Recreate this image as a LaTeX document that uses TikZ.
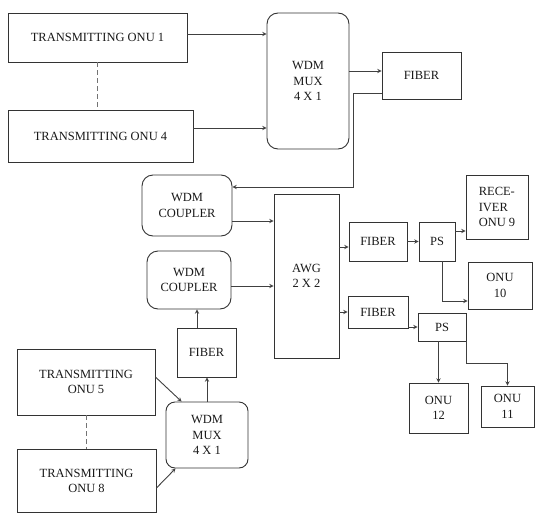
\documentclass[tikz,border=0pt]{standalone}
\usepackage{fontspec}
\setmainfont{Liberation Serif}
\begin{document}
\begin{tikzpicture}[
    x=1pt, y=-1pt,
    bloc/.style={draw=black!80, line width=0.9pt, inner sep=1pt, align=center,
                 font=\fontsize{12.5}{15.5}\selectfont, text=black!90},
    arrondi/.style={bloc, rounded corners=11pt},
    fleche/.style={->, >=stealth, draw=black!75, line width=0.9pt},
    pointille/.style={draw=black!55, line width=0.9pt, dash pattern=on 5pt off 3pt}
]
    \useasboundingbox (0,0) rectangle (535,514);

    \node[bloc, minimum width=179pt, minimum height=49pt] (tx1) at (97.5,37.5) {TRANSMITTING ONU 1};
    \node[bloc, minimum width=185pt, minimum height=52pt] (tx4) at (100.5,136) {TRANSMITTING ONU 4};
    \node[arrondi, minimum width=82pt, minimum height=136pt] (mux1) at (308,81) {WDM\\MUX\\4 X 1};
    \node[bloc, minimum width=79pt, minimum height=47pt] (fib1) at (421.5,75.5) {FIBER};

    \node[arrondi, minimum width=90pt, minimum height=61pt] (cpl1) at (187,205.5) {WDM\\COUPLER};
    \node[arrondi, minimum width=84pt, minimum height=58pt] (cpl2) at (189,280) {WDM\\COUPLER};
    \node[bloc, minimum width=65pt, minimum height=164pt] (awg) at (306.5,276) {AWG\\2 X 2};

    \node[bloc, minimum width=58pt, minimum height=39pt] (fib2) at (378,241.5) {FIBER};
    \node[bloc, minimum width=36pt, minimum height=39pt] (ps1) at (437,241.5) {PS};
    \node[bloc, minimum width=62pt, minimum height=64pt, align=left] (rx9) at (497,207) {RECE-\\IVER\\ONU 9};
    \node[bloc, minimum width=64pt, minimum height=47pt] (onu10) at (500,285.5) {ONU\\10};

    \node[bloc, minimum width=60pt, minimum height=32pt] (fib3) at (378,312) {FIBER};
    \node[bloc, minimum width=48pt, minimum height=28pt] (ps2) at (442,327) {PS};
    \node[bloc, minimum width=59pt, minimum height=50pt] (onu12) at (438.5,408) {ONU\\12};
    \node[bloc, minimum width=53pt, minimum height=41pt] (onu11) at (507.5,406.5) {ONU\\11};

    \node[bloc, minimum width=59pt, minimum height=49pt] (fib4) at (206.5,352.5) {FIBER};
    \node[arrondi, minimum width=82pt, minimum height=66pt, rounded corners=9pt] (mux2) at (207,435) {WDM\\MUX\\4 X 1};
    \node[bloc, minimum width=138pt, minimum height=66pt] (tx5) at (86,382) {TRANSMITTING\\ONU 5};
    \node[bloc, minimum width=139pt, minimum height=63pt] (tx8) at (86.5,481) {TRANSMITTING\\ONU 8};

    \draw[pointille] (tx1.south) -- (tx1.south |- tx4.north);
    \draw[pointille] (tx5.south) -- (tx5.south |- tx8.north);

    \draw[fleche] ([yshift=3.5pt]tx1.east) -- ([yshift=3.5pt]mux1.west |- tx1.east);
    \draw[fleche] ([yshift=8pt]tx4.east) -- ([yshift=8pt]mux1.west |- tx4.east);
    \draw[fleche] ([yshift=4.5pt]mux1.east |- fib1.west) -- ([yshift=4.5pt]fib1.west);
    \draw[fleche] ([yshift=-17.5pt]fib1.west) -- ++(-28,0) |- ([yshift=18.5pt]cpl1.east);

    \draw[fleche] ([yshift=-15.5pt]cpl1.east) -- ([yshift=-15.5pt]awg.west |- cpl1.east);
    \draw[fleche] ([yshift=-6pt]cpl2.east) -- ([yshift=-6pt]awg.west |- cpl2.east);
    \draw[fleche] ([yshift=-5.5pt]awg.east |- fib2.west) -- ([yshift=-5.5pt]fib2.west);
    \draw[fleche] (fib2) -- (ps1);
    \draw[fleche] ([yshift=10.5pt]ps1.east) -- ([yshift=10.5pt]rx9.west |- ps1.east);
    \draw[fleche] ([xshift=5pt]ps1.south) |- ([yshift=-15.5pt]onu10.west);

    \draw[fleche] (awg.east |- fib3.west) -- (fib3.west);
    \draw[fleche] (ps2.west -| fib3.east) -- (ps2.west);
    \draw[fleche] (onu12.north |- ps2.south) -- (onu12.north);
    \draw[fleche] (ps2.south east) -- ++(0,22) -| (onu11.north);

    \draw[fleche] ([xshift=-9.5pt]fib4.north) -- ([xshift=-9.5pt]fib4.north |- cpl2.south);
    \draw[fleche] (mux2.north) -- (mux2.north |- fib4.south);
    \draw[fleche] ([yshift=5pt]tx5.east) -- ([xshift=16pt]mux2.north west);
    \draw[fleche] ([yshift=-7pt]tx8.east) -- ([xshift=10pt]mux2.south west);
\end{tikzpicture}
\end{document}
